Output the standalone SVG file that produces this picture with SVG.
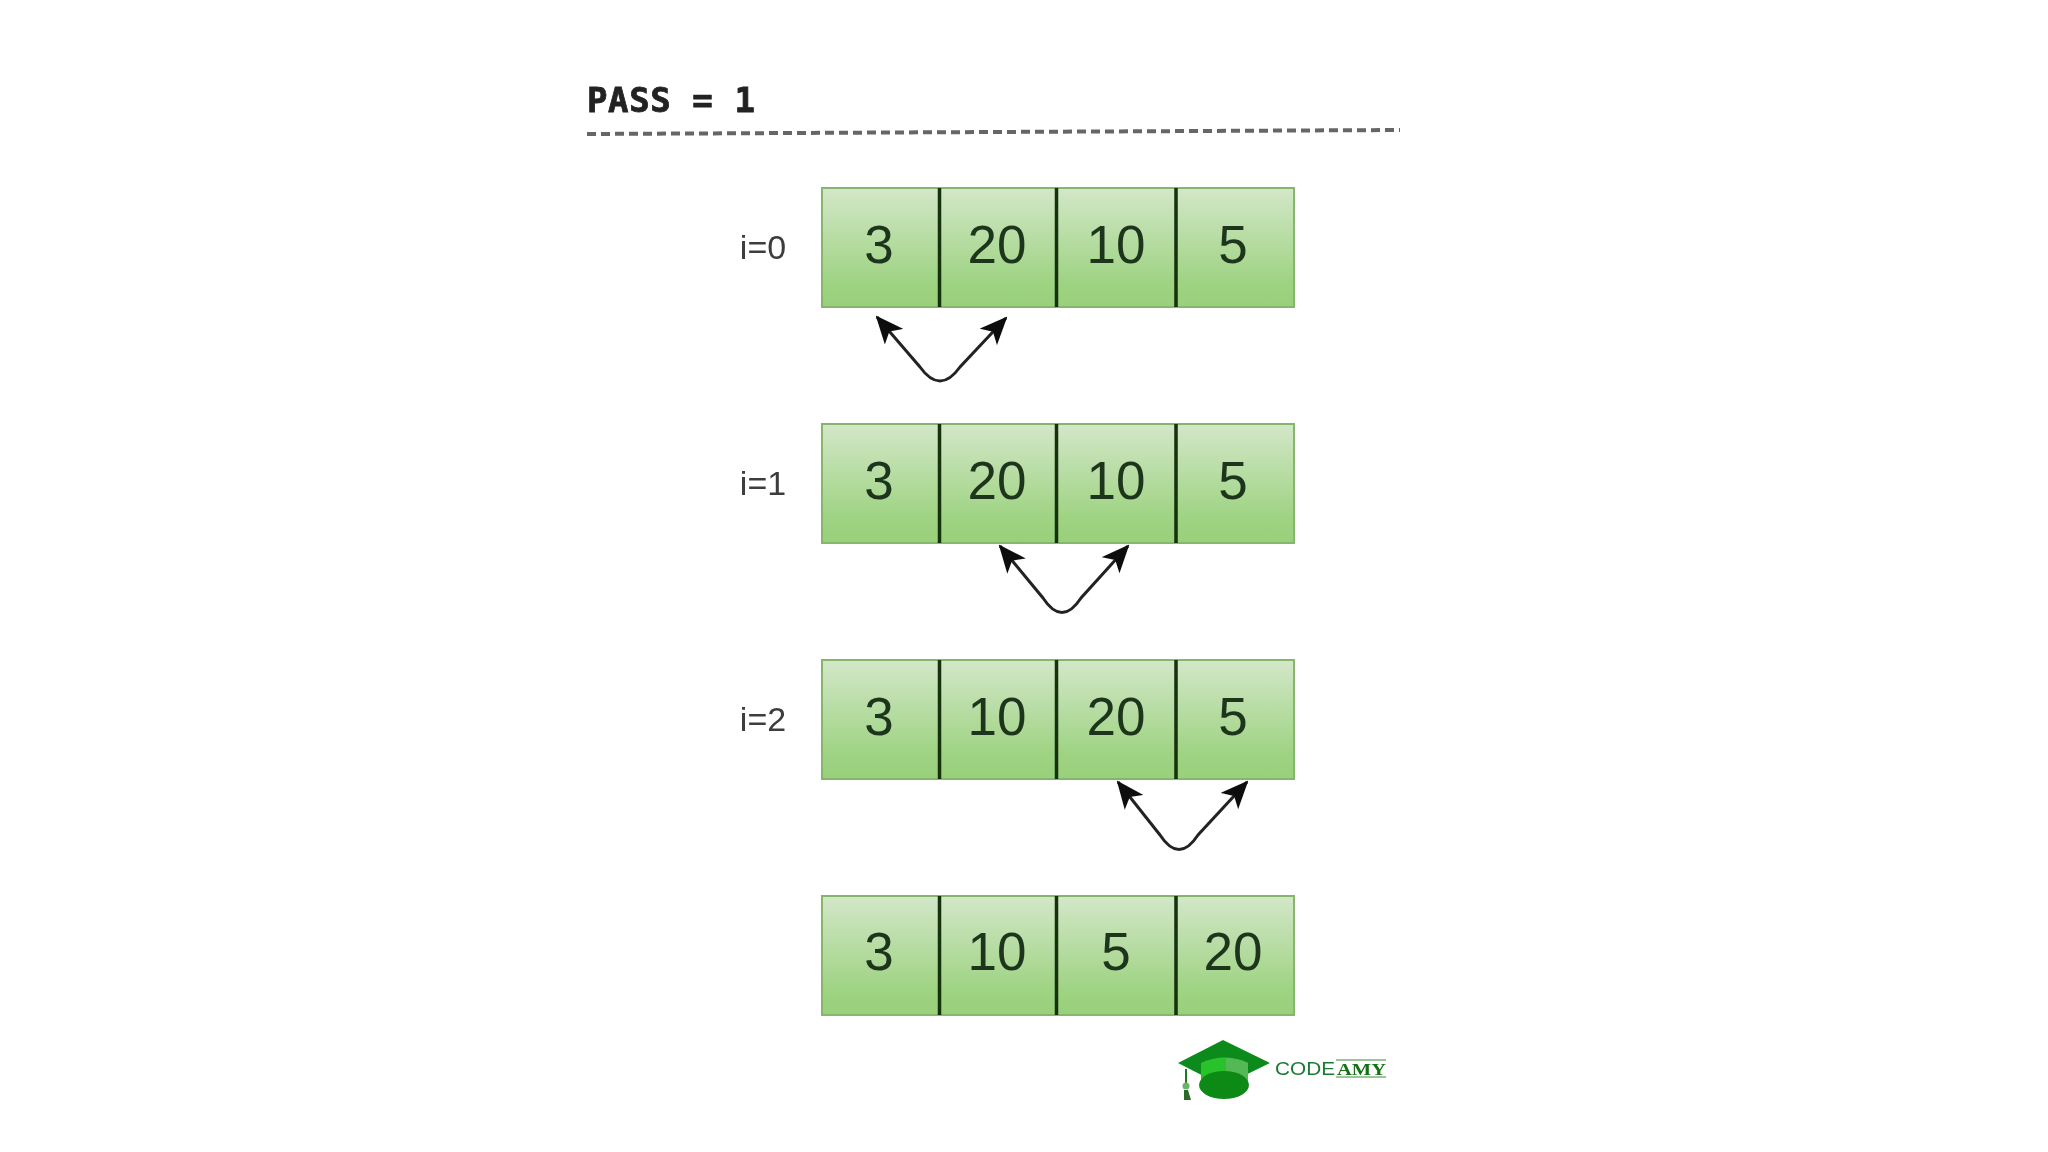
<svg xmlns="http://www.w3.org/2000/svg" width="2048" height="1152" viewBox="0 0 2048 1152">
<style>
.cell{fill:url(#g);stroke:#86b56c;stroke-width:2}
.div{stroke:#12300d;stroke-width:3.500}
.num{font-family:"Liberation Sans",Arial,sans-serif;font-size:53px;fill:#1d361a;text-anchor:middle}
.lbl{font-family:"Liberation Sans",Arial,sans-serif;font-size:34px;fill:#3c3c3c;text-anchor:middle}
.arr{fill:none;stroke:#222;stroke-width:3;marker-start:url(#a);marker-end:url(#a)}
</style>
<defs>
<linearGradient id="g" x1="0" y1="0" x2="0" y2="1"><stop offset="0" stop-color="#d3e7c8"/><stop offset="0.8" stop-color="#9ed382"/><stop offset="1" stop-color="#98d07a"/></linearGradient>
<marker id="a" viewBox="0 0 28 24" refX="26" refY="12" markerWidth="28" markerHeight="24" markerUnits="userSpaceOnUse" orient="auto-start-reverse"><path d="M0,0L28,12L0,24L7,12Z" fill="#111"/></marker>
<filter id="b" x="-5%" y="-5%" width="110%" height="110%"><feGaussianBlur stdDeviation="0.6"/></filter>
</defs>
<rect width="2048" height="1152" fill="#fff"/>
<g filter="url(#b)">
<g id="title">
<text x="587" y="112" font-family="'DejaVu Sans Mono',monospace" font-weight="700" font-size="34" textLength="168" lengthAdjust="spacing" fill="#222" stroke="#222" stroke-width="0.8">PASS = 1</text>
<path d="M587,134L1400,130" stroke="#666" stroke-width="4" stroke-dasharray="9 5" fill="none"/>
</g>
<g id="row0">
<rect class="cell" x="822" y="188" width="472" height="119"/>
<path class="div" d="M939.500,188V307M1056.500,188V307M1176,188V307"/>
<text class="lbl" x="763" y="259">i=0</text>
<text class="num" x="879" y="263">3</text><text class="num" x="997" y="263">20</text><text class="num" x="1116" y="263">10</text><text class="num" x="1233" y="263">5</text>
</g>
<g id="row1">
<rect class="cell" x="822" y="424" width="472" height="119"/>
<path class="div" d="M939.500,424V543M1056.500,424V543M1176,424V543"/>
<text class="lbl" x="763" y="495">i=1</text>
<text class="num" x="879" y="499">3</text><text class="num" x="997" y="499">20</text><text class="num" x="1116" y="499">10</text><text class="num" x="1233" y="499">5</text>
</g>
<g id="row2">
<rect class="cell" x="822" y="660" width="472" height="119"/>
<path class="div" d="M939.500,660V779M1056.500,660V779M1176,660V779"/>
<text class="lbl" x="763" y="731">i=2</text>
<text class="num" x="879" y="735">3</text><text class="num" x="997" y="735">10</text><text class="num" x="1116" y="735">20</text><text class="num" x="1233" y="735">5</text>
</g>
<g id="row3">
<rect class="cell" x="822" y="896" width="472" height="119"/>
<path class="div" d="M939.500,896V1015M1056.500,896V1015M1176,896V1015"/>
<text class="num" x="879" y="970">3</text><text class="num" x="997" y="970">10</text><text class="num" x="1116" y="970">5</text><text class="num" x="1233" y="970">20</text>
</g>
<g id="connectors">
<path class="arr" d="M877,317L920,367Q940,395 960,367L1006,318"/>
<path class="arr" d="M1000,546L1043,598Q1062,627 1081,598L1128,546"/>
<path class="arr" d="M1118,782L1160,835Q1179,864 1198,835L1247,782"/>
</g>
<g id="logo">
<path d="M1178,1063L1223,1040L1270,1063L1223,1086Z" fill="#0f8a1a"/>
<path d="M1201,1063Q1224,1052 1248,1063V1085H1201Z" fill="#2cc22c"/>
<path d="M1226,1058Q1238,1058 1248,1063V1085H1226Z" fill="#55b857"/>
<ellipse cx="1224" cy="1085" rx="25" ry="14" fill="#0f8a17"/>
<path d="M1186,1069V1085" stroke="#1a7a1a" stroke-width="2"/>
<circle cx="1186" cy="1086" r="3.500" fill="#6ab36a"/>
<path d="M1184,1090H1188L1191,1100H1184Z" fill="#2a6b2a"/>
<text x="1275" y="1075" font-family="'Liberation Sans',Arial,sans-serif" font-size="18" textLength="60" lengthAdjust="spacingAndGlyphs" fill="#1f7a34">CODE</text>
<text x="1337" y="1075" font-family="'Liberation Serif',serif" font-weight="700" font-size="17" textLength="49" lengthAdjust="spacingAndGlyphs" fill="#126f12">AMY</text>
<path d="M1336,1060H1386M1336,1077H1386" stroke="#3a8a3a" stroke-width="1.200"/>
</g>
</g>
</svg>
